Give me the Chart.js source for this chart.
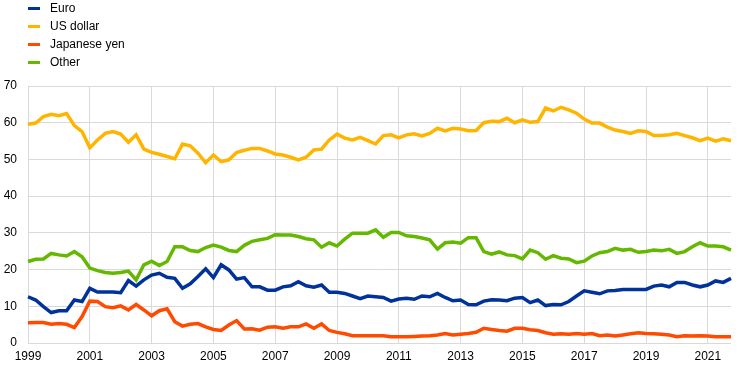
<!DOCTYPE html>
<html>
<head>
<meta charset="utf-8">
<script src="https://cdn.jsdelivr.net/npm/chart.js@4/dist/chart.umd.min.js"></script>
<style>
  html, body { margin: 0; padding: 0; background: #fff; }
  #wrap { position: relative; width: 744px; height: 371px; font-family: "Liberation Sans", Arial, sans-serif; }
  #legend { position: absolute; left: 28px; top: -1px; font-size: 12px; color: #000; }
  #legend div { height: 18px; line-height: 15px; display: flex; align-items: center; }
  #legend span.sw { display: inline-block; width: 12px; height: 3px; margin-right: 10px; }
</style>
</head>
<body>
<div id="wrap">
  <canvas id="chart" width="744" height="371"></canvas>
  <div id="legend"></div>
</div>
<script>
// quarterly shares, 1999 Q1 - 2021 Q4 (percentages)
const years = [];
for (let y = 1999; y <= 2021; y++) years.push(y);
const quarters = [];
years.forEach(y => { for (let q = 1; q <= 4; q++) quarters.push(y + 'Q' + q); });

const euro = [
  12.6, 11.7, 9.9, 8.3, 8.8, 8.8, 11.7, 11.3, 14.9, 13.9,
  13.9, 13.9, 13.7, 17.0, 15.5, 17.2, 18.5, 19.0, 17.9, 17.6,
  14.9, 16.1, 18.1, 20.2, 17.8, 21.3, 19.9, 17.4, 17.8, 15.3,
  15.3, 14.4, 14.4, 15.3, 15.6, 16.7, 15.6, 15.2, 15.8, 13.8,
  13.8, 13.5, 12.8, 12.1, 12.8, 12.6, 12.4, 11.4, 12.0, 12.2,
  11.9, 12.8, 12.6, 13.5, 12.4, 11.5, 11.7, 10.5, 10.4, 11.4,
  11.8, 11.7, 11.5, 12.2, 12.4, 11.0, 11.7, 10.2, 10.5, 10.4,
  11.3, 12.8, 14.2, 13.8, 13.4, 14.2, 14.3, 14.6, 14.6, 14.6,
  14.6, 15.5, 15.8, 15.3, 16.5, 16.5, 15.8, 15.3, 15.8, 16.9, 16.5, 17.6
];
const usDollar = [
  59.6, 59.9, 61.7, 62.3, 61.9, 62.5, 59.2, 57.6, 53.2, 55.3,
  57.1, 57.6, 56.9, 54.7, 56.7, 52.8, 51.9, 51.4, 50.8, 50.2,
  54.2, 53.7, 51.7, 49.1, 51.2, 49.4, 49.9, 51.9, 52.5, 53.0,
  53.0, 52.3, 51.5, 51.2, 50.6, 49.9, 50.6, 52.6, 52.8, 55.3,
  56.9, 55.8, 55.3, 56.0, 55.1, 54.2, 56.5, 56.7, 55.9, 56.7,
  57.0, 56.4, 57.1, 58.5, 57.8, 58.5, 58.3, 57.8, 57.9, 60.0,
  60.4, 60.3, 61.2, 60.0, 60.8, 60.1, 60.3, 64.0, 63.2, 64.2,
  63.5, 62.6, 61.0, 59.9, 59.9, 58.8, 58.0, 57.6, 57.1, 57.8,
  57.6, 56.5, 56.5, 56.7, 57.1, 56.5, 55.9, 55.1, 55.8, 55.0, 55.6, 55.1
];
const japaneseYen = [
  5.5, 5.6, 5.6, 5.1, 5.3, 5.1, 4.2, 7.2, 11.4, 11.3,
  9.9, 9.6, 10.1, 9.0, 10.5, 9.0, 7.4, 8.8, 9.3, 5.8,
  4.6, 5.1, 5.3, 4.4, 3.7, 3.4, 4.9, 6.1, 3.8, 3.9,
  3.5, 4.3, 4.4, 4.0, 4.4, 4.4, 5.2, 4.0, 5.2, 3.4,
  2.9, 2.5, 2.0, 2.0, 2.0, 2.0, 2.0, 1.7, 1.7, 1.7,
  1.8, 1.9, 2.0, 2.2, 2.6, 2.2, 2.4, 2.6, 2.9, 4.0,
  3.7, 3.4, 3.2, 4.0, 4.0, 3.6, 3.4, 2.8, 2.4, 2.5,
  2.4, 2.6, 2.4, 2.6, 2.0, 2.2, 1.9, 2.2, 2.5, 2.8,
  2.6, 2.5, 2.4, 2.2, 1.7, 2.0, 1.9, 2.0, 1.9, 1.7, 1.7, 1.7
];
const other = [
  22.2, 22.8, 22.9, 24.4, 24.0, 23.7, 24.9, 23.5, 20.4, 19.7,
  19.2, 19.0, 19.2, 19.6, 17.2, 21.3, 22.3, 21.1, 22.2, 26.2,
  26.2, 25.2, 24.9, 26.0, 26.7, 26.1, 25.2, 24.9, 26.6, 27.7,
  28.1, 28.5, 29.5, 29.4, 29.4, 29.0, 28.4, 28.1, 26.1, 27.3,
  26.4, 28.3, 29.9, 29.9, 29.9, 30.8, 28.8, 30.1, 30.1, 29.2,
  29.0, 28.6, 28.1, 25.6, 27.3, 27.5, 27.2, 28.7, 28.7, 24.9,
  24.2, 24.8, 24.0, 23.8, 22.9, 25.3, 24.6, 22.8, 23.8, 23.1,
  22.9, 21.9, 22.3, 23.7, 24.6, 24.9, 25.8, 25.3, 25.5, 24.7,
  24.9, 25.3, 25.1, 25.5, 24.4, 24.9, 26.2, 27.3, 26.4, 26.4, 26.2, 25.3
];

const seriesNames = ['Euro', 'US dollar', 'Japanese yen', 'Other'];
const seriesColors = ['#003299', '#FFB400', '#FF4B00', '#65B800'];
const seriesData = [euro, usDollar, japaneseYen, other];

const gridColor = '#d9d9d9';
const font = { family: '"Liberation Sans", Arial, sans-serif', size: 12 };

// legend (one item per row, like the original)
document.getElementById('legend').innerHTML = seriesNames.map((n, i) =>
  '<div><span class="sw" style="background:' + seriesColors[i] + '"></span>' + n + '</div>'
).join('');

new Chart(document.getElementById('chart'), {
  type: 'line',
  data: {
    labels: quarters,
    datasets: seriesNames.map((n, i) => ({
      label: n,
      data: seriesData[i],
      borderColor: seriesColors[i],
      backgroundColor: seriesColors[i],
      borderWidth: 3.5,
      pointRadius: 0,
      tension: 0,
      fill: false
    }))
  },
  options: {
    responsive: false,
    animation: false,
    layout: { padding: { top: 86, right: 13, left: 0, bottom: 0 } },
    plugins: { legend: { display: false }, tooltip: { enabled: false } },
    scales: {
      x: {
        offset: false,
        border: { display: false },
        grid: { color: gridColor, drawTicks: false },
        ticks: {
          autoSkip: false,
          maxRotation: 0,
          padding: 6,
          color: '#000',
          font,
          callback: (v, i) => {
            const q = quarters[i];
            const y = parseInt(q, 10);
            return (q.endsWith('Q1') && (y - 1999) % 2 === 0) ? String(y) : null;
          }
        },
        afterFit: s => { s.height = 28; }
      },
      y: {
        min: 0,
        max: 70,
        border: { display: false },
        grid: { color: gridColor, drawTicks: false },
        ticks: { stepSize: 10, padding: 11, color: '#000', font },
        afterFit: s => { s.width = 28; }
      }
    }
  }
});
</script>
</body>
</html>
